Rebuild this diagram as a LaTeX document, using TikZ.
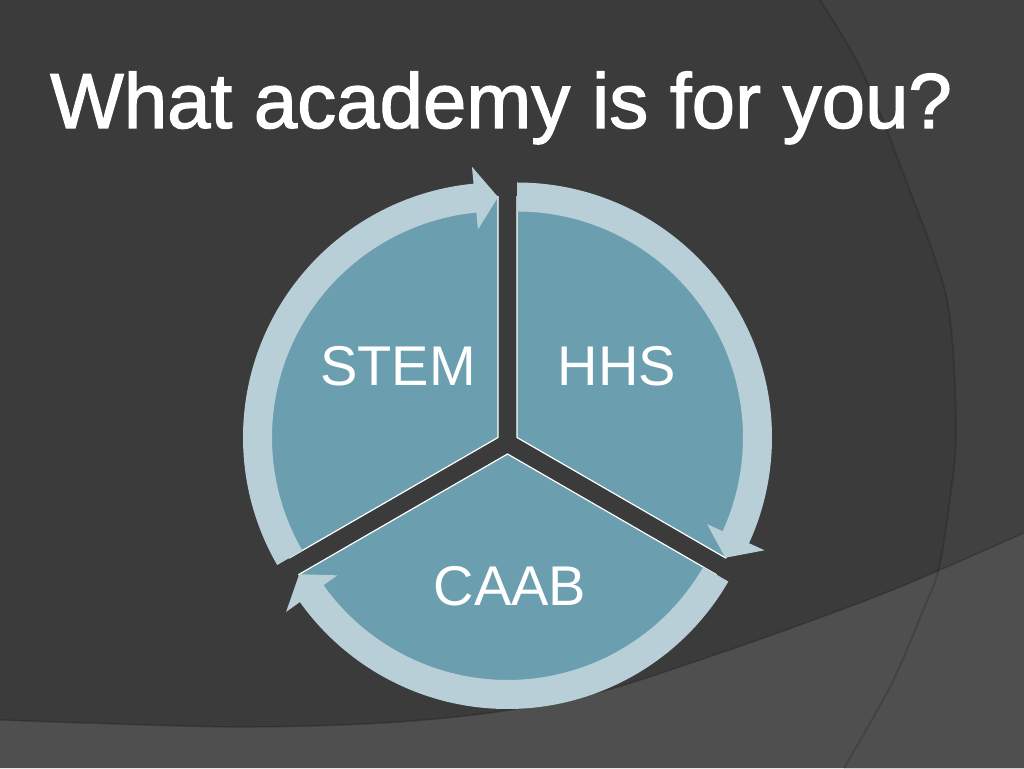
\documentclass[tikz,border=0pt]{standalone}
\usepackage{fontspec}
\setmainfont{Liberation Sans}
\newfontfamily\titlefont{Liberation Sans}[FakeBold=1.6]
\usetikzlibrary{calc}
\definecolor{bgdark}{HTML}{3B3B3B}
\definecolor{bgright}{HTML}{414141}
\definecolor{bgband}{HTML}{4F4F4F}
\definecolor{slicefill}{HTML}{6B9FAF}
\definecolor{ringfill}{HTML}{B9CFD7}

\begin{document}
\begin{tikzpicture}[x=1pt,y=1pt,
  segslice/.style={fill=slicefill,draw=white,line width=1.2pt,line join=round},
  segring/.style={fill=ringfill},
  segtext/.style={text=white,inner sep=0pt,font=\fontsize{56}{60}\selectfont}]
\useasboundingbox (0,0) rectangle (1024,768);
% background
\fill[bgdark] (0,0) rectangle (1024,768);
\fill[bgright] plot[smooth] coordinates {(820,768) (863,695) (905,590) (947,468) (956,340) (950,270) (939,200) (924,160) (891,83) (844,0)} -- (1024,0) -- (1024,768) -- cycle;
\fill[bgband] plot[smooth] coordinates {(0,48) (230,41) (383,45) (497,56) (600,76) (700,108) (800,143) (900,181) (1024,235)} -- (1024,0) -- (0,0) -- cycle;
\draw[black,opacity=0.2,line width=1.5pt] plot[smooth] coordinates {(0,48) (230,41) (383,45) (497,56) (600,76) (700,108) (800,143) (900,181) (1024,235)};
\draw[black,opacity=0.15,line width=2pt] plot[smooth] coordinates {(820,768) (863,695) (905,590) (947,468) (956,340) (950,270) (939,200) (924,160) (891,83) (844,0)};

% title
\node[anchor=base west,inner sep=0pt,text=white,font=\titlefont\fontsize{78}{80}\selectfont] (title) at (50,640) {What academy is for you?};

% segments
\coordinate (ctr) at (507.5,325);
\coordinate (stemc) at ($(ctr)+(-9.5,5.5)$);
\coordinate (hhsc) at ($(ctr)+(9.5,5.5)$);
\coordinate (caabc) at ($(ctr)+(0,-11)$);
\draw[segslice] (stemc) -- ++(90:241) arc[start angle=90,end angle=210,radius=241] -- cycle;
\draw[segslice] (hhsc) -- ++(-30:241) arc[start angle=-30,end angle=90,radius=241] -- cycle;
\draw[segslice] (caabc) -- ++(210:241) arc[start angle=210,end angle=330,radius=241] -- cycle;

% arrows
\begin{scope}[shift={(stemc)}]
\fill[segring] (210:255) arc[start angle=210,end angle=95.5,radius=255] -- (95.5:272) -- (90:240.5) -- (95.5:209) -- (95.5:226) arc[start angle=95.5,end angle=210,radius=226] -- cycle;
\end{scope}
\begin{scope}[shift={(hhsc)}]
\fill[segring] (90:255) arc[start angle=90,end angle=-24.5,radius=255] -- (-24.5:272) -- (-30:240.5) -- (-24.5:209) -- (-24.5:226) arc[start angle=-24.5,end angle=90,radius=226] -- cycle;
\end{scope}
\begin{scope}[shift={(caabc)}]
\fill[segring] (330:255) arc[start angle=330,end angle=215.5,radius=255] -- (215.5:272) -- (210:240.5) -- (215.5:209) -- (215.5:226) arc[start angle=215.5,end angle=330,radius=226] -- cycle;
\end{scope}

% labels
\node[segtext] (stem) at (398,402) {STEM};
\node[segtext] (hhs) at (617,402) {HHS};
\node[segtext] (caab) at (510,182) {CAAB};
\end{tikzpicture}
\end{document}
